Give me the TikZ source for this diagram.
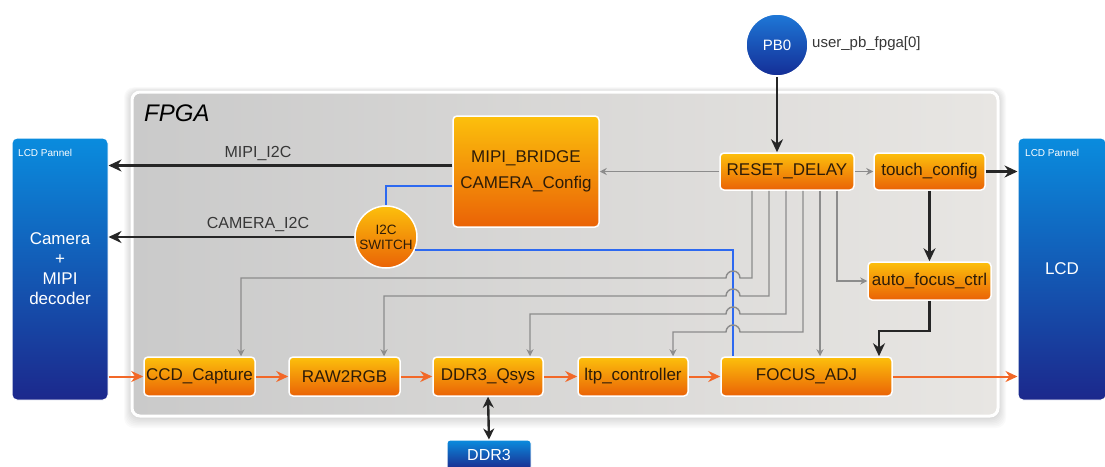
\documentclass[tikz,border=0pt]{standalone}
\usepackage{fontspec}
\setmainfont{Liberation Sans}
\usetikzlibrary{arrows.meta,calc}
\definecolor{obTop}{RGB}{252,192,12}
\definecolor{obBot}{RGB}{234,98,6}
\definecolor{obTxt}{RGB}{45,28,8}
\definecolor{blTop}{RGB}{10,140,222}
\definecolor{blBot}{RGB}{28,40,140}
\definecolor{pbTop}{RGB}{30,120,215}
\definecolor{pbBot}{RGB}{20,45,150}
\definecolor{glc}{RGB}{140,140,140}
\definecolor{olc}{RGB}{242,104,40}
\definecolor{blc}{RGB}{45,105,240}
\definecolor{lbl}{RGB}{55,55,55}
\definecolor{fpL}{RGB}{202,202,202}
\definecolor{fpR}{RGB}{232,230,227}
\tikzset{
  obox/.style={draw=white, line width=1.5pt, rounded corners=4pt, top color=obTop, bottom color=obBot, text=obTxt, inner sep=0pt, font=\fontsize{17}{26}\selectfont, align=center},
  ocirc/.style={circle, draw=white, line width=1.5pt, top color=obTop, bottom color=obBot, text=obTxt, inner sep=0pt, minimum size=62pt, font=\fontsize{13.5}{15}\selectfont, align=center},
  bbox/.style={draw=white, line width=1pt, rounded corners=5pt, top color=blTop, bottom color=blBot, text=white, inner sep=0pt, align=center, font=\fontsize{17}{20}\selectfont},
  gl/.style={draw=glc, line width=1.4pt, -{Stealth[length=7pt,width=7pt]}},
  bk/.style={draw=black!85, line width=2.4pt, -{Stealth[length=13pt,width=12pt]}},
  ol/.style={draw=olc, line width=2pt, -{Stealth[length=12pt,width=11pt]}},
  bu/.style={draw=blc, line width=2pt},
  lab/.style={text=lbl, font=\fontsize{16}{18}\selectfont, inner sep=0pt},
  small/.style={text=white, font=\fontsize{10}{12}\selectfont, inner sep=0pt, anchor=west}
}
\begin{document}
\begin{tikzpicture}[x=1pt,y=-1pt]
\useasboundingbox (0,0) rectangle (1105,466);
\fill[white] (0,0) rectangle (1105,466);
% FPGA shadow and body
\foreach \i in {1,...,8}
  \fill[black, opacity=0.018, rounded corners=10pt] (132-\i,92-0.6*\i) rectangle (998+\i,416+1.5*\i);
\draw[white, line width=3pt, rounded corners=8pt, left color=fpL, right color=fpR] (132,92) rectangle (998,416);
\node[anchor=west, inner sep=0pt, font=\fontsize{24}{24}\selectfont\itshape] (fpga) at (144,113) {FPGA};

% side boxes
\node[bbox, minimum width=96pt, minimum height=262pt] (lb) at (60,269) {Camera\\+\\MIPI\\decoder};
\node[small] (lbt) at (18,153) {LCD Pannel};
\node[bbox, minimum width=88pt, minimum height=262pt] (rb) at (1062,269) {LCD};
\node[small] (rbt) at (1025,153) {LCD Pannel};

% PB0
\node[circle, draw=white, line width=1.5pt, top color=pbTop, bottom color=pbBot, text=white, minimum size=62pt, inner sep=0pt, font=\fontsize{15}{17}\selectfont] (pb0) at (777,45) {PB0};
\node[lab, anchor=west, font=\fontsize{15}{17}\selectfont] (pbl) at (812,44) {user\_pb\_fpga[0]};

% blocks
\node[obox, minimum width=146pt, minimum height=111pt] (mb) at (526,171.5) {MIPI\_BRIDGE\\CAMERA\_Config};
\node[obox, minimum width=134pt, minimum height=37pt] (rd) at (787,171.5) {RESET\_DELAY};
\node[obox, minimum width=111pt, minimum height=37pt] (tc) at (929.5,171.5) {touch\_config};
\node[obox, minimum width=123pt, minimum height=38pt] (afc) at (929.5,281) {auto\_focus\_ctrl};
\node[ocirc] (sw) at (386,237) {I2C\\SWITCH};
\node[obox, minimum width=111pt, minimum height=39pt] (ccd) at (199.5,376.5) {CCD\_Capture};
\node[obox, minimum width=111pt, minimum height=39pt] (raw) at (344.5,376.5) {RAW2RGB};
\node[obox, minimum width=110pt, minimum height=39pt] (dq) at (488,376.5) {DDR3\_Qsys};
\node[obox, minimum width=110pt, minimum height=39pt] (ltp) at (633,376.5) {ltp\_controller};
\node[obox, minimum width=171pt, minimum height=39pt] (fa) at (806.5,376.5) {FOCUS\_ADJ};
\node[bbox, rounded corners=3pt, minimum width=84pt, minimum height=30pt, font=\fontsize{16}{18}\selectfont] (ddr) at (489,455) {DDR3};

% black connectors
\draw[bk] (pb0.south) -- (pb0 |- rd.north);
\coordinate (m1) at ($(mb.west)+(0,-6)$);
\draw[bk] (m1) -- (m1 -| lb.east);
\node[lab] (mipil) at (258,154) {MIPI\_I2C};
\draw[bk] (sw.west) -- (sw.west -| lb.east);
\node[lab] (caml) at (258,224) {CAMERA\_I2C};
\draw[bk] (tc.east) -- (tc.east -| rb.west);
\draw[bk] (tc.south) -- (tc.south |- afc.north);
\draw[bk] (afc.south) |- (879,331) -- (879,0 |- fa.north);
\draw[draw=black!85, line width=2.4pt, {Stealth[length=11pt,width=11pt]}-{Stealth[length=11pt,width=11pt]}] (dq.south) -- (ddr.north);

% blue connectors
\coordinate (b1) at ($(mb.west)+(0,14.5)$);
\draw[bu] (b1) -| (sw.north);
\draw[bu] (sw.-25) -| (733,0 |- fa.north);

% gray connectors
\draw[gl] (rd.west) -- (mb.east |- rd.west);
\draw[gl] (rd.east) -- (tc.west);
\draw[gl] (752,0 |- rd.south) -- (752,278) -- (740,278) arc[start angle=0,end angle=180,radius=7pt] -- (241,278) -- (241,0 |- ccd.north);
\draw[gl] (769,0 |- rd.south) -- (769,296) -- (740,296) arc[start angle=0,end angle=180,radius=7pt] -- (384,296) -- (384,0 |- raw.north);
\draw[gl] (786,0 |- rd.south) -- (786,314) -- (740,314) arc[start angle=0,end angle=180,radius=7pt] -- (530,314) -- (530,0 |- dq.north);
\draw[gl] (803,0 |- rd.south) -- (803,332) -- (740,332) arc[start angle=0,end angle=180,radius=7pt] -- (673,332) -- (673,0 |- ltp.north);
\draw[gl] (820,0 |- rd.south) -- (820,0 |- fa.north);
\draw[gl] (837,0 |- rd.south) |- (afc.west);

% orange connectors
\draw[ol] (lb.east |- ccd.west) -- (ccd.west);
\draw[ol] (ccd.east) -- (raw.west);
\draw[ol] (raw.east) -- (dq.west);
\draw[ol] (dq.east) -- (ltp.west);
\draw[ol] (ltp.east) -- (fa.west);
\draw[ol] (fa.east) -- (fa.east -| rb.west);
\end{tikzpicture}
\end{document}
